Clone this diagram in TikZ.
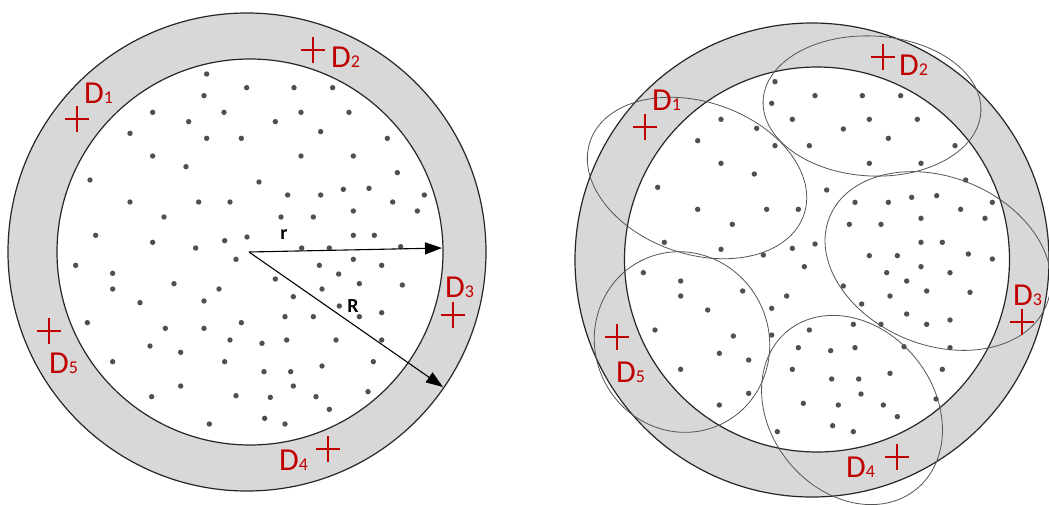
\documentclass[tikz,border=0pt]{standalone}
\usepackage{fontspec}
\setmainfont{Carlito}
\usetikzlibrary{arrows.meta}
\definecolor{ringgray}{RGB}{216,216,216}
\definecolor{dred}{RGB}{192,0,0}
\definecolor{dotgray}{RGB}{80,80,80}
\definecolor{egray}{RGB}{85,85,85}
\tikzset{
  ringline/.style={draw=black!85, line width=1.2pt},
  dotstyle/.style={fill=dotgray},
  radiusarrow/.style={draw=black, line width=1.1pt, -{Triangle[length=17pt,width=12pt]}},
  crossline/.style={draw=dred, line width=1.1pt},
  dlabel/.style={text=dred, inner sep=0pt, anchor=base west},
  rlabel/.style={inner sep=0pt, font=\fontsize{20}{20}\selectfont\bfseries},
  blob/.style={draw=egray, line width=0.8pt},
}
\newcommand{\Dlab}[1]{{\fontsize{32}{32}\selectfont D}{\fontsize{18}{18}\selectfont #1}}
\begin{document}
\begin{tikzpicture}[x=1pt,y=-1pt]
\useasboundingbox (0,0) rectangle (1049,504);
\fill[white] (0,0) rectangle (1049,504);
% ---------------- left picture ----------------
\coordinate (oL) at (247,252);
\coordinate (iL) at (250,252);
\fill[ringgray] (oL) circle[radius=239pt];
\fill[white] (iL) circle[radius=193pt];
\draw[ringline] (oL) circle[radius=239pt];
\draw[ringline] (iL) circle[radius=193pt];
\foreach \x/\y in {620/222, 740/263, 882/263, 998/263, 612/287, 458/337, 672/337, 903/337, 1047/337, 566/365, 826/365, 390/400, 962/395, 620/415, 724/415, 1162/415, 458/468, 903/468, 1060/468, 558/500, 1192/518, 270/540, 777/546, 863/585, 962/585, 1030/568, 1107/565, 1273/585, 390/606, 596/606, 690/606, 1178/606, 1060/633, 1252/633, 492/651, 843/651, 940/651, 287/706, 458/727, 674/722, 741/711, 1060/706, 1123/706, 587/744, 905/744, 988/744, 1202/740, 708/778, 1060/778, 227/796, 958/796, 1145/796, 338/820, 1016/822, 826/837, 522/851, 338/867, 657/867, 966/867, 1078/851, 1207/855, 880/890, 420/908, 612/903, 1018/918, 855/950, 940/950, 1078/950, 1145/938, 262/968, 724/968, 496/985, 612/985, 690/1020, 786/1030, 860/1020, 1008/1020, 1145/1020, 450/1038, 542/1057, 338/1085, 674/1085, 1120/1085, 966/1098, 792/1115, 872/1115, 880/1158, 542/1158, 1104/1175, 455/1190, 708/1187, 811/1192, 948/1190, 988/1228, 794/1255, 628/1272, 855/1272}
  \fill[dotstyle] ({\x/3},{\y/3}) circle[radius=2.7pt];
\coordinate (cL) at (249,252);
\coordinate (rTip) at (442,248);
\coordinate (RTip) at (443,387);
\draw[radiusarrow] (cL) -- (rTip);
\draw[radiusarrow] (cL) -- (RTip);
\node[rlabel] (rtext) at (284,235) {r};
\node[rlabel] (Rtext) at (353,306) {R};
\foreach \x/\y in {77/119, 313/50, 453/315, 328/449, 49/331}
  \draw[crossline] (\x-12,\y) -- (\x+12,\y) (\x,\y-13) -- (\x,\y+13);
\node[dlabel] (LD1) at (84,103) {\Dlab{1}};
\node[dlabel] (LD2) at (331,67) {\Dlab{2}};
\node[dlabel] (LD3) at (445,297) {\Dlab{3}};
\node[dlabel] (LD4) at (279,470) {\Dlab{4}};
\node[dlabel] (LD5) at (49,373) {\Dlab{5}};
% ---------------- right picture ----------------
\coordinate (oR) at (812,260);
\coordinate (iR) at (817,259.5);
\fill[ringgray] (oR) circle[radius=237pt];
\fill[white] (iR) circle[radius=192.5pt];
\draw[ringline] (oR) circle[radius=237pt];
\draw[ringline] (iR) circle[radius=192.5pt];
\foreach \x/\y in {645/245, 635/310, 765/287, 907/287, 1022/287, 483/358, 590/385, 697/358, 928/358, 1072/358, 413/422, 645/437, 748/437, 850/387, 985/415, 1185/437, 483/490, 928/490, 1083/490, 583/522, 293/562, 800/570, 1217/540, 885/607, 985/607, 1055/592, 1130/587, 1202/628, 1297/607, 413/628, 620/628, 715/628, 868/673, 963/673, 1083/655, 1275/655, 517/673, 313/727, 483/748, 697/745, 765/732, 1083/727, 1147/727, 610/765, 928/767, 1012/767, 1225/762, 1297/777, 733/800, 1083/800, 250/818, 980/818, 1170/818, 362/843, 1040/843, 850/858, 548/873, 362/888, 680/888, 990/888, 1100/873, 1230/877, 905/912, 443/930, 635/925, 1040/942, 880/973, 963/973, 1100/973, 1170/960, 285/990, 748/990, 520/1008, 635/1005, 715/1043, 812/1052, 885/1043, 1032/1040, 1170/1043, 478/1060, 566/1080, 362/1108, 697/1108, 1147/1108, 990/1120, 815/1137, 896/1137, 903/1182, 566/1180, 1128/1197, 478/1215, 730/1210, 835/1215, 970/1215, 1012/1250, 818/1277, 652/1295, 880/1295}
  \fill[dotstyle] ({560+\x/3},{\y/3}) circle[radius=2.7pt];
% cluster outlines
\coordinate (e1) at (697,178);
\coordinate (e2) at (872,106);
\coordinate (e3) at (938,261);
\coordinate (e4) at (852,410);
\coordinate (e5) at (682,342);
\draw[blob, rotate around={-19:(e1)}] (e1) ellipse[x radius=113pt, y radius=76pt];
\draw[blob, rotate around={-3:(e2)}] (e2) ellipse[x radius=109pt, y radius=70pt];
\draw[blob, rotate around={-22:(e3)}] (e3) ellipse[x radius=117pt, y radius=84pt];
\draw[blob, rotate around={-51:(e4)}] (e4) ellipse[x radius=102pt, y radius=82pt];
\draw[blob, rotate around={-65:(e5)}] (e5) ellipse[x radius=91pt, y radius=87pt];
\foreach \x/\y in {645/127, 883/57, 1022/322, 897/457, 617/337}
  \draw[crossline] (\x-12,\y) -- (\x+12,\y) (\x,\y-13) -- (\x,\y+13);
\node[dlabel] (RD1) at (652,110) {\Dlab{1}};
\node[dlabel] (RD2) at (899,75) {\Dlab{2}};
\node[dlabel] (RD3) at (1013,305) {\Dlab{3}};
\node[dlabel] (RD4) at (846,477) {\Dlab{4}};
\node[dlabel] (RD5) at (616,382) {\Dlab{5}};
\end{tikzpicture}
\end{document}
